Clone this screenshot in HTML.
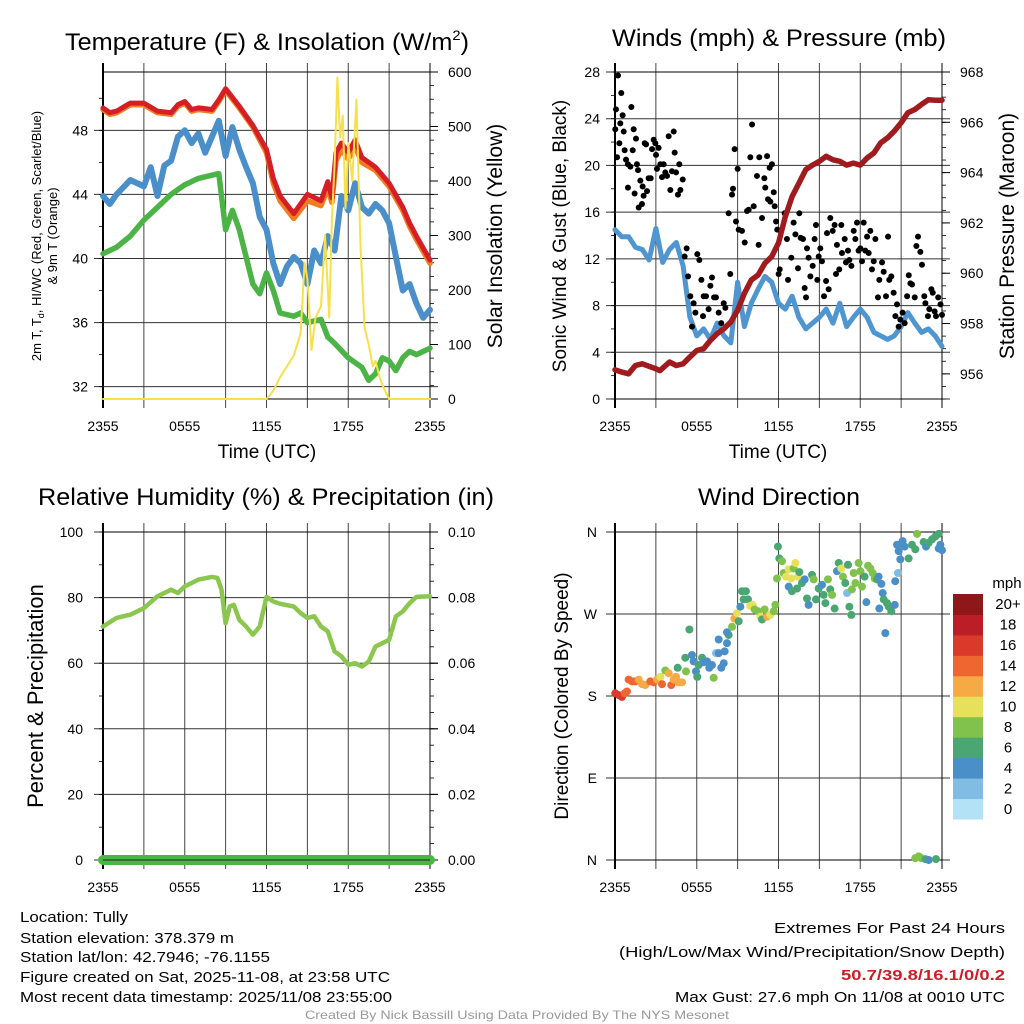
<!DOCTYPE html>
<html><head><meta charset="utf-8"><title>Tully Mesonet</title>
<style>
html,body{margin:0;padding:0;background:#fff;}
svg{display:block;font-family:"Liberation Sans",sans-serif;}
</style></head>
<body>
<svg id="chart" width="1024" height="1024" viewBox="0 0 1024 1024" xmlns="http://www.w3.org/2000/svg">
<rect x="0" y="0" width="1024" height="1024" fill="#fff"/>
<g id="titles">
<text x="267" y="50" font-size="24" text-anchor="middle" textLength="404" lengthAdjust="spacingAndGlyphs">Temperature (F) &amp; Insolation (W/m<tspan font-size="14" dy="-10">2</tspan><tspan dy="10">)</tspan></text>
<text x="779" y="46" font-size="24" text-anchor="middle" textLength="334" lengthAdjust="spacingAndGlyphs">Winds (mph) &amp; Pressure (mb)</text>
<text x="266" y="505" font-size="24" text-anchor="middle" textLength="456" lengthAdjust="spacingAndGlyphs">Relative Humidity (%) &amp; Precipitation (in)</text>
<text x="779" y="505" font-size="24" text-anchor="middle" textLength="162" lengthAdjust="spacingAndGlyphs">Wind Direction</text>
</g>
<g id="axtitles" font-size="19">
<text x="267" y="458" text-anchor="middle">Time (UTC)</text>
<text x="778" y="458" text-anchor="middle">Time (UTC)</text>
<text transform="translate(41,236) rotate(-90)" font-size="13" text-anchor="middle">2m T, T<tspan font-size="9" dy="3">d</tspan><tspan dy="-3">, HI/WC (Red, Green, Scarlet/Blue)</tspan></text>
<text transform="translate(57,236) rotate(-90)" font-size="13" text-anchor="middle">&amp; 9m T (Orange)</text>
<text transform="translate(502,236) rotate(-90)" font-size="21" text-anchor="middle">Solar Insolation (Yellow)</text>
<text transform="translate(566,236) rotate(-90)" font-size="19" text-anchor="middle">Sonic Wind &amp; Gust (Blue, Black)</text>
<text transform="translate(1014,236) rotate(-90)" font-size="21" text-anchor="middle">Station Pressure (Maroon)</text>
<text transform="translate(43,696) rotate(-90)" font-size="22" text-anchor="middle">Percent &amp; Precipitation</text>
<text transform="translate(568,696) rotate(-90)" font-size="19" text-anchor="middle">Direction (Colored By Speed)</text>
</g>
<g id="footer" font-size="15" font-family="'Liberation Sans Narrow','Liberation Sans',sans-serif">
<text x="20" y="922" textLength="108" lengthAdjust="spacingAndGlyphs">Location: Tully</text>
<text x="20" y="943" textLength="214" lengthAdjust="spacingAndGlyphs">Station elevation: 378.379 m</text>
<text x="20" y="962" textLength="250" lengthAdjust="spacingAndGlyphs">Station lat/lon: 42.7946; -76.1155</text>
<text x="20" y="982" textLength="370" lengthAdjust="spacingAndGlyphs">Figure created on Sat, 2025-11-08, at 23:58 UTC</text>
<text x="20" y="1002" textLength="372" lengthAdjust="spacingAndGlyphs">Most recent data timestamp: 2025/11/08 23:55:00</text>
<text x="1005" y="933" text-anchor="end" textLength="231" lengthAdjust="spacingAndGlyphs">Extremes For Past 24 Hours</text>
<text x="1005" y="957" text-anchor="end" textLength="386" lengthAdjust="spacingAndGlyphs">(High/Low/Max Wind/Precipitation/Snow Depth)</text>
<text x="1005" y="980" text-anchor="end" fill="#d01c24" font-weight="bold" textLength="164" lengthAdjust="spacingAndGlyphs">50.7/39.8/16.1/0/0.2</text>
<text x="1005" y="1002" text-anchor="end" textLength="330" lengthAdjust="spacingAndGlyphs">Max Gust: 27.6 mph On 11/08 at 0010 UTC</text>
<text x="517" y="1019" text-anchor="middle" font-size="12" fill="#999" textLength="424" lengthAdjust="spacingAndGlyphs">Created By Nick Bassill Using Data Provided By The NYS Mesonet</text>
</g>
</svg>
<script>
// ---------- DATA ----------
const timeLabels = ['2355','0555','1155','1755','2355'];
const timeLabelHours = [0,6,12,18,24];
const tempTicks = [32,36,40,44,48];
const solarTicks = [0,100,200,300,400,500,600];
const windTicks = [0,4,8,12,16,20,24,28];
const presTicks = [956,958,960,962,964,966,968];
const rhTicks = [0,20,40,60,80,100];
const precipTicks = ['0.00','0.02','0.04','0.06','0.08','0.10'];
const dirLabels = ['N','E','S','W','N'];
const dirDegrees = [0,90,180,270,360];

const redTimes = [0,0.5,1,2,3,4,5,5.5,6,6.5,7,8,8.5,9,10,11,12,12.5,13,14,15,16,16.5,16.8,17.1,17.5,18,18.5,19,20,21,22,22.5,23,24];
const redTemp  = [49.4,49.1,49.2,49.7,49.7,49.2,49.1,49.6,49.8,49.3,49.4,49.3,49.9,50.6,49.5,48.3,46.8,45.0,43.9,42.8,44.0,43.6,44.8,43.8,46.6,47.2,46.6,47.4,46.3,45.7,44.7,43.2,42.2,41.4,39.9];
const orangeTemp=[49.3,49.0,49.1,49.6,49.6,49.1,49.0,49.5,49.7,49.2,49.3,49.2,49.8,50.5,49.4,48.2,46.6,44.7,43.6,42.5,43.6,43.3,44.4,43.5,46.1,46.8,46.2,47.0,46.0,45.5,44.5,43.0,42.0,41.2,39.7];
const blueTimes = [0,0.5,1,2,3,3.5,4,4.5,5,5.5,6,6.5,7,7.5,8,8.5,9,9.5,10,10.5,11,11.5,12,12.5,13,13.5,14,14.5,15,15.5,16,16.5,17,17.5,18,18.5,19,19.5,20,20.5,21,21.5,22,22.5,23,23.5,24];
const blueTemp  = [43.9,43.4,44.0,44.9,44.5,45.7,43.9,45.8,46.1,47.6,48.0,47.2,47.8,46.6,47.6,48.6,46.4,48.2,46.8,45.7,44.7,42.6,41.8,39.7,38.4,39.5,40.1,39.7,38.4,40.5,39.7,41.4,40.5,43.9,43.0,44.7,43.2,42.8,43.4,43.0,42.2,40.1,38.0,38.4,37.2,36.3,36.8];
const greenTimes = [0,1,2,3,4,5,6,7,8,8.5,9,9.5,10,10.5,11,11.5,12,12.5,13,14,14.5,15,16,16.5,17,18,19,19.5,20,20.5,21,21.5,22,22.5,23,24];
const greenTemp  = [40.3,40.7,41.4,42.4,43.2,44.0,44.6,45.0,45.2,45.3,41.8,43.0,41.8,40.1,38.4,37.8,39.1,38.0,36.6,36.4,36.6,36.0,36.2,35.1,34.7,33.8,33.2,32.4,32.8,33.8,33.6,33.0,33.8,34.2,34.0,34.4];
const solarTimes = [0,12,12.5,13,14,14.5,14.8,15,15.3,15.6,16,16.3,16.6,16.8,17,17.2,17.4,17.6,17.8,18,18.3,18.6,18.9,19.2,19.5,19.8,20,20.3,20.6,21,24];
const solarVals  = [0,0,15,40,80,120,250,220,90,150,170,300,150,330,430,590,480,520,350,470,400,550,280,130,100,60,70,40,20,0,0];

const windTimes = [0,0.5,1,1.5,2,2.5,3,3.5,4,4.5,5,5.5,6,6.5,7,7.5,8,8.5,9,9.5,10,10.5,11,11.5,12,12.5,13,13.5,14,14.5,15,15.5,16,16.5,17,17.5,18,18.5,19,19.5,20,20.5,21,21.5,22,22.5,23,23.5,24];
const windVals  = [14.5,13.9,13.9,13.0,12.8,11.9,14.6,11.7,12.8,13.4,11.4,7.0,5.4,6.0,5.1,6.5,5.4,4.8,10.0,6.2,8.2,9.4,10.5,10.0,8.2,7.7,8.8,7.0,6.0,6.5,7.0,7.7,6.5,8.2,6.2,7.0,7.7,7.0,5.7,5.4,5.1,5.4,6.2,7.4,6.5,5.7,6.0,5.4,4.5];
const gustTimes = [0.02,0.07,0.22,0.15,0.32,0.39,0.46,0.56,0.64,0.71,0.81,0.95,0.95,1.13,1.2,1.3,1.37,1.44,1.54,1.61,1.69,1.74,1.86,1.98,2.03,2.1,2.18,2.28,2.35,2.47,2.62,2.72,2.84,2.96,3.01,3.08,3.2,3.33,3.45,3.57,3.69,3.82,3.94,4.06,4.18,4.31,4.38,4.48,4.62,4.72,4.8,4.97,5.11,5.26,5.36,5.53,5.65,5.77,5.9,6.04,6.19,6.34,6.46,6.51,6.68,6.87,7,7.12,7.27,7.41,7.61,7.8,7.98,8.1,8.46,8.34,8.59,8.66,8.78,8.88,9,9.08,9.32,9.52,9.69,9.81,9.93,10.06,10.18,10.42,10.54,10.59,10.79,10.96,11.03,11.16,11.23,11.35,11.4,11.52,11.65,11.72,11.82,11.91,12.01,12.09,12.45,12.62,12.7,12.94,13.11,13.24,13.43,13.53,13.63,13.8,13.92,14.02,14.09,14.21,14.34,14.51,14.65,14.75,14.85,14.95,15.07,15.19,15.34,15.49,15.56,15.68,15.8,15.98,16.12,16.22,16.29,16.46,16.61,16.66,16.86,16.95,17.1,17.2,17.35,17.52,17.64,17.76,17.88,18.01,18.13,18.25,18.37,18.5,18.62,18.74,18.86,18.99,19.11,19.3,19.4,19.6,19.72,19.89,20.04,20.13,20.28,20.45,20.58,20.7,20.82,20.94,21.11,21.26,21.44,21.56,21.68,21.8,22,22.12,22.24,22.41,22.53,22.7,22.78,22.97,23.07,23.22,23.32,23.46,23.56,23.72,23.89,24];
const gustVals  = [23.1,24.8,27.7,20.7,21.9,23.6,26.2,24.3,22.9,21.3,20.5,20.1,18.1,19.9,25,21.3,23.1,17.6,22.3,20.1,19.6,16.4,18.7,16.7,18.2,17.4,21.9,21.8,17.8,18.9,18.9,21.4,22.2,21.9,20.9,19.7,21.5,20.1,19,20.1,19.4,19.1,22.5,17.9,19.5,22.9,21.1,19.4,17.5,20.1,17.9,18.8,12.2,12.9,10.5,8.8,6.2,8.2,7.4,12.4,11.9,10.2,7.1,8.8,8.8,7.7,9.7,10.4,8.7,8.7,7.4,6.5,8.2,7.8,10.7,15.9,17.5,18,21.4,15.2,19.7,14.5,14.4,13.4,16.1,16.2,20.7,23.5,16.5,19.1,13.2,20.7,15.5,18.9,18.1,20.8,17.1,19.8,16.9,20.1,17.7,16.5,15.2,14.5,10.7,11.1,15.9,13.7,10.2,12.1,15.1,14.1,11.2,15.9,13.8,13.7,9.5,8.7,12.9,12.1,10.5,11.4,13.7,14.9,10.2,12.2,12.9,11.8,8.8,10.1,14.2,9.4,15.5,14.4,14.9,10.7,13.2,11.1,14.9,12.5,13.7,11.7,12.7,11.9,11.4,14.4,13.7,15.1,12.7,12.9,11.8,15.1,12.7,13.9,12.5,14.4,11.1,11.8,13.7,8.7,10.2,11.7,10.9,8.8,13.9,10.2,10.5,9.1,7.1,8.1,6.2,6.8,7.4,6.5,8.8,10.6,9.9,9.8,8.7,13.1,13.9,12.6,11.5,8.8,8.2,7.1,7.7,9.4,9.1,7.5,7.1,8.7,8.1,7.2];
const presTimes = [0,0.5,1,1.5,2,3,3.3,4,4.5,5,5.5,6,6.5,7,7.5,8,8.5,9,9.5,10,10.5,11,11.5,12,12.5,13,13.5,14,14.5,15,15.5,16,16.5,17,17.5,18,18.5,19,19.5,20,20.5,21,21.5,22,22.5,23,23.5,24];
const presVals  = [956.16,956.07,956.0,956.33,956.4,956.2,956.13,956.47,956.33,956.4,956.67,956.93,957.0,957.33,957.6,957.8,958.06,958.53,959.2,959.73,959.93,960.4,960.66,961.2,962.25,963.05,963.58,964.12,964.3,964.45,964.65,964.51,964.45,964.3,964.38,964.3,964.58,964.78,965.18,965.38,965.65,965.98,966.38,966.51,966.71,966.9,966.88,966.88];

const rhTimes = [0,1,2,3,4,5,5.5,6,7,8,8.4,8.7,9,9.3,9.6,10,10.5,11,11.5,12,12.5,13,14,14.5,15,15.5,16,16.5,17,17.5,18,18.5,19,19.5,20,20.5,21,21.5,22,22.5,23,24];
const rhVals  = [71.2,73.8,74.8,76.8,80.4,82.4,81.4,83.4,85.5,86.3,86.0,82.4,72.2,77.3,77.8,73.2,71.2,68.7,71.2,80.2,78.8,78.1,77.3,75.3,73.8,74.3,71.2,69.7,63.6,62.1,59.5,60.0,59.0,60.5,65.1,66.1,67.1,74.3,75.8,78.3,80.2,80.4];
const precipTimes = [0,24];
const precipVals = [0,0];

const dirTimes = [0.02,0.27,0.51,0.71,0.88,1.0,1.25,1.49,1.74,1.98,2.23,2.59,2.84,3.08,3.33,3.45,3.69,3.94,4.13,4.31,4.48,4.67,4.92,4.6,5.16,5.21,5.46,5.65,5.77,5.94,6.04,6.14,6.39,6.51,6.75,6.92,7.12,7.24,7.41,7.61,7.8,7.98,8.05,8.22,8.34,7.61,8.22,8.59,8.76,8.95,9.08,9.2,9.32,9.44,9.61,9.76,9.93,10.1,10.25,10.5,10.67,10.79,10.98,11.16,11.4,11.65,11.77,11.89,11.96,12.06,12.26,12.38,12.55,12.75,12.94,13.11,13.24,13.43,13.53,12.75,12.99,13.36,13.72,13.92,14.09,14.21,14.46,14.58,14.75,14.95,15.19,15.31,15.44,15.63,15.8,15.93,16.12,16.29,16.42,16.61,16.73,16.9,17.03,17.1,17.2,17.35,17.39,17.52,17.64,17.88,18.01,18.13,18.32,18.45,18.57,18.74,18.91,19.06,19.23,19.35,19.4,19.55,19.65,19.72,19.84,19.96,20.09,20.28,20.53,20.57,20.77,20.7,20.82,20.94,21.11,21.26,21.55,21.8,22.04,22.17,22.65,22.83,23.02,23.27,23.51,23.76,23.88,24.0,23.76,22.04,22.29,22.48,22.78,23.02,23.56];
const dirVals  = [183,181,179,183,185,198,196,196,198,193,192,196,195,198,201,193,208,205,192,198,201,195,195,211,222,207,253,225,218,207,201,214,222,217,218,211,214,200,227,227,211,216,229,238,247,242,250,256,265,271,262,278,295,286,295,286,279,280,275,273,267,264,275,267,269,273,280,309,344,331,328,315,311,319,309,320,326,311,316,300,295,298,304,308,287,280,313,308,286,298,302,291,282,308,297,291,276,317,326,320,311,304,293,324,278,269,297,315,304,326,317,300,311,283,323,320,315,309,308,311,276,303,293,286,249,282,278,273,280,306,315,346,339,330,350,344,331,346,341,358,349,344,348,352,355,358,346,340,342,2,4,2,1,0,1];
const dirSpeeds= [17,17,16,15,14,14,14,14,12,12,12,14,14,12,11,14,8,12,14,12,13,12,12,6,6,8,6,4,4,4,6,6,6,4,4,4,4,8,2,4,4,4,4,4,6,4,4,8,12,10,6,4,6,6,6,6,10,10,8,8,10,6,8,12,10,8,8,8,6,6,8,8,10,10,10,8,10,10,6,4,6,6,6,4,6,4,6,8,6,6,4,6,6,8,6,8,6,4,6,10,8,6,2,6,6,6,8,8,8,8,8,8,6,4,8,8,8,8,6,4,4,4,4,6,4,6,6,6,4,4,2,4,4,4,4,4,6,6,6,8,6,4,6,6,6,6,4,4,4,8,8,8,6,4,6];

const cbColors = ['#b3e2f7','#80bce4','#4b8fc8','#4aa673','#80c24b','#e6e05a','#f6a945','#ef6630','#db3a2b','#bb1e26','#8f1619'];
const cbLabels = ['0','2','4','6','8','10','12','14','16','18','20+'];

// ---------- HELPERS ----------
const NS = 'http://www.w3.org/2000/svg';
const svg = document.getElementById('chart');
function mk(tag, attrs, parent){const e=document.createElementNS(NS,tag);for(const k in attrs)e.setAttribute(k,attrs[k]);(parent||svg).appendChild(e);return e;}
function linScale(d0,d1,r0,r1){return v=>r0+(v-d0)*(r1-r0)/(d1-d0);}
function pathFrom(ts,vs,sx,sy){return ts.map((t,i)=>(i?'L':'M')+sx(t).toFixed(1)+' '+sy(vs[i]).toFixed(1)).join(' ');}

function panel(name,x0,x1,y0,y1,skipSix){
  const g=mk('g',{});
  
  
  const sx=linScale(0,24,x0,x1);
  for(let h=3;h<24;h+=3){
    if(skipSix && h===6) continue;
    const l=mk('line',{x1:sx(h),x2:sx(h),y1:y0-9,y2:y1+9,stroke:'#444','stroke-width':1},g);
    
    
  }
  for(const h of [0,24]){
    const l=mk('line',{x1:sx(h),x2:sx(h),y1:y0-9,y2:y1+9,stroke:'#000','stroke-width':h===0?2:1},g);
    
    
  }
  timeLabelHours.forEach((h,i)=>{
    const t=mk('text',{x:sx(h),y:y1+32,'font-size':14,'text-anchor':'middle'},g);
    t.textContent=timeLabels[i];
    
    
  });
  return {g,sx};
}
function yAxis(g,name,ticks,labels,sy,x0,x1,side,minorStep,lo,hi,grid,textX){
  ticks.forEach((v,i)=>{
    const y=sy(v);
    if(grid){
      const l=mk('line',{x1:x0-9,x2:x1+8,y1:y,y2:y,stroke:'#333','stroke-width':1},g);
      
      
    } else {
      const xa=side==='left'?x0:x1;
      const l=mk('line',{x1:xa,x2:side==='left'?xa-9:xa+8,y1:y,y2:y,stroke:'#000','stroke-width':1},g);
      
      
    }
    const t=mk('text',{x:textX,y:y+5,'font-size':14,'text-anchor':side==='left'?'end':'start'},g);
    t.textContent=labels[i];
    
    
  });
  if(minorStep){
    for(let v=lo; v<=hi+1e-9; v+=minorStep){
      const y=sy(v);
      const xa=side==='left'?x0:x1;
      const l=mk('line',{x1:xa,x2:side==='left'?xa-4:xa+4,y1:y,y2:y,stroke:'#000','stroke-width':0.8},g);
      
      
    }
  }
}
function frame(g,name,x0,x1,y0,y1){
  const r=mk('rect',{x:x0,y:y0,width:x1-x0,height:y1-y0,fill:'none',stroke:'#000','stroke-width':1},g);
  
  
}
function line(g,name,d,color,w){
  const p=mk('path',{d:d,fill:'none',stroke:color,'stroke-width':w,'stroke-linejoin':'round','stroke-linecap':'round'},g);
  
  
  return p;
}

// ---------- PANEL 1: Temperature ----------
(function(){
  const x0=103,x1=430,y0=72,y1=399;
  const P=panel('temp',x0,x1,y0,y1,true);
  const yT=linScale(31.23,51.64,y1,y0);
  const yS=linScale(0,600,y1,y0);
  yAxis(P.g,'temp-y',tempTicks,tempTicks.map(String),yT,x0,x1,'left',2,32,50,true,88);
  yAxis(P.g,'solar-y',solarTicks,solarTicks.map(String),yS,x0,x1,'right',25,0,600,false,448);
  const tk=mk('line',{x1:x1,x2:x1+8,y1:y0,y2:y0,stroke:'#000'},P.g);
  
  
  const s=mk('g',{});
  
  
  line(s,'dewpoint-line',pathFrom(greenTimes,greenTemp,P.sx,yT),'#4cb447',5.5);
  line(s,'heat-index-line',pathFrom(blueTimes,blueTemp,P.sx,yT),'#4a8fca',6);
  line(s,'temp-9m-line',pathFrom(redTimes,orangeTemp,P.sx,yT),'#f47c20',5.5);
  line(s,'temp-2m-line',pathFrom(redTimes,redTemp,P.sx,yT),'#d41f26',5);
  line(s,'solar-line',pathFrom(solarTimes,solarVals,P.sx,yS),'#f7e04b',2);
  frame(P.g,'temp',x0,x1,y0,y1);
})();

// ---------- PANEL 2: Winds ----------
(function(){
  const x0=615,x1=942,y0=72,y1=399;
  const P=panel('wind',x0,x1,y0,y1,true);
  const yW=linScale(0,28,y1,y0);
  const yP=linScale(955,968,y1,y0);
  yAxis(P.g,'wind-y',windTicks,windTicks.map(String),yW,x0,x1,'left',2,0,28,true,600);
  yAxis(P.g,'pres-y',presTicks,presTicks.map(String),yP,x0,x1,'right',0.5,955,968,false,960);
  const s=mk('g',{});
  
  
  line(s,'wind-speed-line',pathFrom(windTimes,windVals,P.sx,yW),'#4f95d0',5);
  gustTimes.forEach((t,i)=>{
    const c=mk('circle',{cx:P.sx(t),cy:yW(gustVals[i]),r:3,fill:'#000'},s);
    
    
  });
  line(s,'pressure-line',pathFrom(presTimes,presVals,P.sx,yP),'#a01b1e',5.5);
  frame(P.g,'wind',x0,x1,y0,y1);
})();

// ---------- PANEL 3: RH ----------
(function(){
  const x0=103,x1=430,y0=532,y1=860;
  const P=panel('rh',x0,x1,y0,y1,false);
  const yR=linScale(0,100,y1,y0);
  const yPr=linScale(0,0.1,y1,y0);
  yAxis(P.g,'rh-y',rhTicks,rhTicks.map(String),yR,x0,x1,'left',10,0,100,true,83);
  yAxis(P.g,'precip-y',precipTicks.map(Number),precipTicks,yPr,x0,x1,'right',0.005,0,0.1,false,448);
  const s=mk('g',{});
  
  
  line(s,'rh-line',pathFrom(rhTimes,rhVals,P.sx,yR),'#8bc74f',4.5);
  line(s,'precip-line',pathFrom(precipTimes,precipVals,P.sx,yPr),'#4ab646',10);
  const ax=mk('line',{x1:x0,x2:x1,y1:y1,y2:y1,stroke:'#222','stroke-width':1},s);
  
  
  frame(P.g,'rh',x0,x1,y0,y1);
})();

// ---------- PANEL 4: Wind direction ----------
(function(){
  const x0=615,x1=942,y0=532,y1=860;
  const P=panel('dir',x0,x1,y0,y1,false);
  const yD=linScale(0,360,y1,y0);
  yAxis(P.g,'dir-y',dirDegrees,dirLabels,yD,x0,x1,'left',0,0,0,true,597);
  const s=mk('g',{});
  
  
  dirTimes.forEach((t,i)=>{
    const bin=Math.min(10,Math.floor(dirSpeeds[i]/2));
    const c=mk('circle',{cx:P.sx(t),cy:yD(dirVals[i]),r:4,fill:cbColors[bin]},s);
    
    
  });
  frame(P.g,'dir',x0,x1,y0,y1);
  const cb=mk('g',{});
  
  
  const cbTop=594,cbBot=819,h=(cbBot-cbTop)/cbColors.length;
  cbColors.forEach((col,i)=>{
    const y=cbBot-(i+1)*h;
    const r=mk('rect',{x:953,y:y,width:30,height:h+0.5,fill:col},cb);
    
    
    const t=mk('text',{x:1008,y:y+h/2+5,'font-size':15,'text-anchor':'middle'},cb);
    t.textContent=cbLabels[i];
    
    
  });
  const u=mk('text',{x:1007,y:588,'font-size':15,'text-anchor':'middle'},cb);
  u.textContent='mph';
  
  
})();
</script>
</body></html>
